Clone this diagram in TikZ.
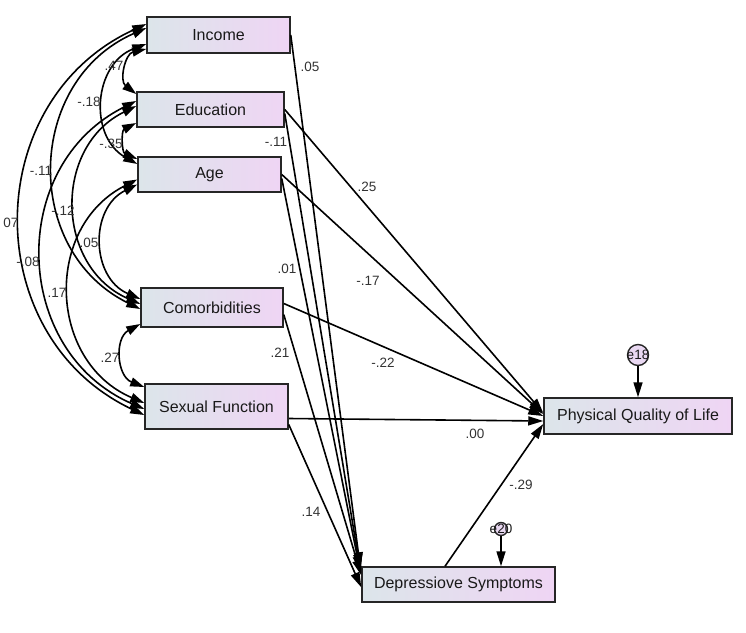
\documentclass[tikz,border=0pt]{standalone}
\usepackage{fontspec}
\setmainfont{Liberation Sans}
\usetikzlibrary{arrows.meta}
\definecolor{boxl}{HTML}{DCE5EA}
\definecolor{boxr}{HTML}{EFD5F4}
\definecolor{errc}{HTML}{E9D8F2}
\begin{document}
\begin{tikzpicture}[x=1pt,y=-1pt,
  box/.style={draw=black!85, line width=1.5pt, left color=boxl, right color=boxr,
    font=\fontsize{16}{17}\selectfont, text=black!90, inner sep=0pt},
  path/.style={line width=1.6pt, -{Triangle[length=15pt,width=9pt]}},
  cov/.style={line width=1.6pt, {Triangle[length=14pt,width=9pt]}-{Triangle[length=14pt,width=9pt]}, bend right=65, looseness=1.2},
  coef/.style={font=\fontsize{13.5}{14}\selectfont, text=black!80, inner sep=0pt},
  err/.style={circle, draw=black!85, line width=1.4pt, fill=errc, inner sep=0pt}
]
\useasboundingbox (0,0) rectangle (746,632);

% boxes
\node[box, minimum width=143pt, minimum height=36pt] (inc) at (218.5,35) {Income};
\node[box, minimum width=147pt, minimum height=35pt] (edu) at (210.5,109.5) {Education};
\node[box, minimum width=143pt, minimum height=35pt] (age) at (209.5,174.5) {Age};
\node[box, minimum width=142pt, minimum height=39pt] (com) at (212,307.5) {Comorbidities};
\node[box, minimum width=143pt, minimum height=45pt] (sf) at (216.5,406.5) {Sexual Function};
\node[box, minimum width=188pt, minimum height=36pt] (pql) at (638,416) {Physical Quality of Life};
\node[box, minimum width=193pt, minimum height=35pt] (dep) at (458.5,584.5) {Depressiove Symptoms};

% error terms
\node[err, minimum size=21pt] (e18) at (638,355) {};
\node[coef, text=black!90] (e18t) at (e18) {e18};
\node[err, minimum size=13pt] (e20) at (501,529) {};
\node[coef, text=black!90] (e20t) at (e20) {e20};
\draw[path] (e18) -- (pql.north);
\draw[path] (e20) -- ([xshift=42.5pt]dep.north);

% paths to depressive symptoms
\draw[path] (inc.east) -- ([xshift=-1pt,yshift=-1pt]dep.north west);
\draw[path] ([yshift=-4pt]edu.east) -- ([xshift=-1pt,yshift=-3pt]dep.north west);
\draw[path] ([yshift=-4pt]age.east) -- ([xshift=-1pt,yshift=-5pt]dep.north west);
\draw[path] ([yshift=-7pt]com.east) -- ([yshift=-9pt]dep.north west);
\draw[path] ([yshift=-18pt]sf.east) -- ([yshift=-21pt]dep.north west);

% paths to physical QoL
\draw[path] (edu.east) -- ([yshift=3pt]pql.west);
\draw[path] (age.east) -- ([yshift=2pt]pql.west);
\draw[path] ([yshift=4pt]com.east) -- (pql.west);
\draw[path] ([yshift=-12pt]sf.east) -- ([yshift=-5pt]pql.west);
\draw[path] ([xshift=-13.5pt]dep.north) -- ([yshift=-8pt]pql.west);

% covariances
\draw[cov] ([yshift=-14pt]inc.west) to ([yshift=15.5pt]edu.west);
\draw[cov] ([yshift=-9pt]inc.west) to ([yshift=10.5pt]age.west);
\draw[cov] ([yshift=7pt]inc.west) to ([yshift=-1.5pt]com.west);
\draw[cov] ([yshift=11pt]inc.west) to ([yshift=-8.5pt]sf.west);
\draw[cov] ([yshift=-13.5pt]edu.west) to ([yshift=15.5pt]age.west);
\draw[cov] ([yshift=3.5pt]edu.west) to ([yshift=3.5pt]com.west);
\draw[cov] ([yshift=8.5pt]edu.west) to ([yshift=-2.5pt]sf.west);
\draw[cov] ([yshift=-10pt]age.west) to ([yshift=8.5pt]com.west);
\draw[cov] ([yshift=-5pt]age.west) to ([yshift=3.5pt]sf.west);
\draw[cov] ([yshift=-16.5pt]com.west) to ([yshift=19.5pt]sf.west);

% coefficient labels
\node[coef] (l1) at (310,67) {.05};
\node[coef] (l2) at (276,142) {-.11};
\node[coef] (l3) at (367,187) {.25};
\node[coef] (l4) at (287,269) {.01};
\node[coef] (l5) at (368,281) {-.17};
\node[coef] (l6) at (280,353) {.21};
\node[coef] (l7) at (383,363) {-.22};
\node[coef] (l8) at (475,434) {.00};
\node[coef] (l9) at (311,512) {.14};
\node[coef] (l10) at (521,485) {-.29};
\node[coef] (c1) at (114,66) {.47};
\node[coef] (c2) at (89,102) {-.18};
\node[coef] (c3) at (111,144) {-.35};
\node[coef] (c4) at (41,171) {-.11};
\node[coef] (c5) at (63,211) {-.12};
\node[coef] (c6) at (89,243) {.05};
\node[coef] (c7) at (11,223) {07};
\node[coef] (c8) at (28,262) {-.08};
\node[coef] (c9) at (57,293) {.17};
\node[coef] (c10) at (110,358) {.27};
\end{tikzpicture}
\end{document}
